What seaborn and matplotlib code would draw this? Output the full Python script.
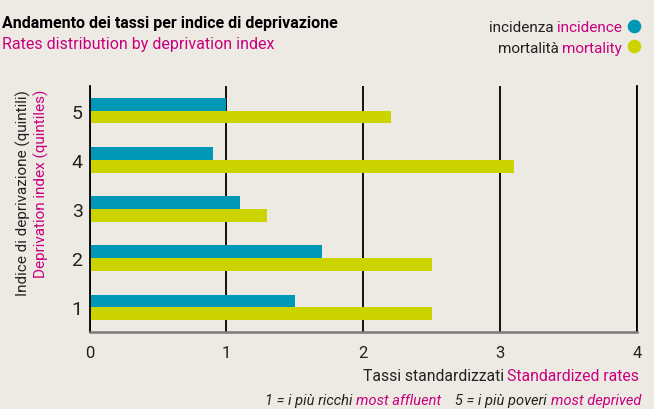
import matplotlib
matplotlib.use('Agg')
import matplotlib.pyplot as plt
import seaborn as sns
import pandas as pd
from matplotlib.lines import Line2D

# ---- data ----
quintiles = ['5', '4', '3', '2', '1']
incidence = [1.0, 0.9, 1.1, 1.7, 1.5]
mortality = [2.2, 3.1, 1.3, 2.5, 2.5]
series = ['incidence', 'mortality']
x_ticks = [0, 1, 2, 3, 4]
x_tick_labels = ['0', '1', '2', '3', '4']

BG = '#edeae4'
TEAL = '#0098b7'
LIME = '#cbd300'
MAG = '#c8007e'
W, H = 654, 410

sns.set_theme(style='white')
plt.rcParams['font.family'] = ['Roboto', 'DejaVu Sans']

df = pd.DataFrame({
    'quintile': quintiles * 2,
    'value': incidence + mortality,
    'series': [series[0]] * len(quintiles) + [series[1]] * len(quintiles),
})

fig = plt.figure(figsize=(W / 100, H / 100), dpi=100, facecolor=BG)
ax = fig.add_axes([89.5 / W, 1 - 333 / H, (637 - 89.5) / W, (333 - 87) / H])
ax.set_facecolor(BG)

sns.barplot(data=df, y='quintile', x='value', hue='series', order=quintiles,
            hue_order=series, palette=[TEAL, LIME], orient='h', width=0.52,
            ax=ax, legend=False, saturation=1, errorbar=None, linewidth=0)

ax.set_xlim(0, 4)
ax.set_ylim(4.5, -0.5)
ax.set_xticks(x_ticks)
ax.set_xticklabels(x_tick_labels)
ax.set_xlabel('')
ax.set_ylabel('')
ax.xaxis.grid(True, color='black', lw=1.3)
ax.yaxis.grid(False)
ax.set_axisbelow(True)
ax.spines['top'].set_visible(False)
for s in ['left', 'right']:
    ax.spines[s].set_color('black')
    ax.spines[s].set_linewidth(1.3)
ax.spines['bottom'].set_color('#7a7a7a')
ax.spines['bottom'].set_linewidth(1.8)
ax.tick_params(axis='x', length=3, width=1.3, color='black', direction='out',
               labelsize=12, pad=6, labelcolor='#222222')
ax.tick_params(axis='y', length=0, labelsize=14, pad=5, labelcolor='#222222')

fig.canvas.draw()
renderer = fig.canvas.get_renderer()


def fx(x):
    return x / W


def fy(y):
    return 1 - y / H


def chain(x_right, y_base, segments, gap, **kw):
    x = x_right
    for text, color in reversed(segments):
        t = fig.text(fx(x), fy(y_base), text, color=color, ha='right',
                     va='baseline', **kw)
        bb = t.get_window_extent(renderer=renderer)
        x = bb.x0 - gap


# titles
fig.text(fx(2), fy(28), 'Andamento dei tassi per indice di deprivazione',
         fontsize=11.5, fontweight='bold', color='black', va='baseline', ha='left')
fig.text(fx(2), fy(48.5), 'Rates distribution by deprivation index',
         fontsize=11.5, color=MAG, va='baseline', ha='left')

# legend
chain(622, 31.5, [('incidenza', '#222222'), ('incidence', MAG)], 3.5, fontsize=11)
chain(622, 53, [('mortalità', '#222222'), ('mortality', MAG)], 3.5, fontsize=11)
fig.add_artist(Line2D([fx(634)], [fy(26.7)], marker='o', ms=8.8, color=TEAL,
                      lw=0, transform=fig.transFigure))
fig.add_artist(Line2D([fx(634)], [fy(46.7)], marker='o', ms=8.8, color=LIME,
                      lw=0, transform=fig.transFigure))

# y label
fig.text(fx(23), fy(90), 'Indice di deprivazione (quintili)', rotation=90,
         rotation_mode='anchor', ha='right', va='center', fontsize=11,
         color='#222222')
fig.text(fx(41), fy(90), 'Deprivation index (quintiles)', rotation=90,
         rotation_mode='anchor', ha='right', va='center', fontsize=11,
         color=MAG)

# x label
chain(639, 381, [('Tassi standardizzati', '#222222'), ('Standardized rates', MAG)],
      3.5, fontsize=11.3)
# footnote
chain(641, 405, [('1 = i più ricchi', '#222222'), ('most affluent', MAG),
                 ('   5 = i più poveri', '#222222'), ('most deprived', MAG)],
      3.5, fontsize=10.5, style='italic')

fig.savefig('out.png', dpi=100, facecolor=BG)
